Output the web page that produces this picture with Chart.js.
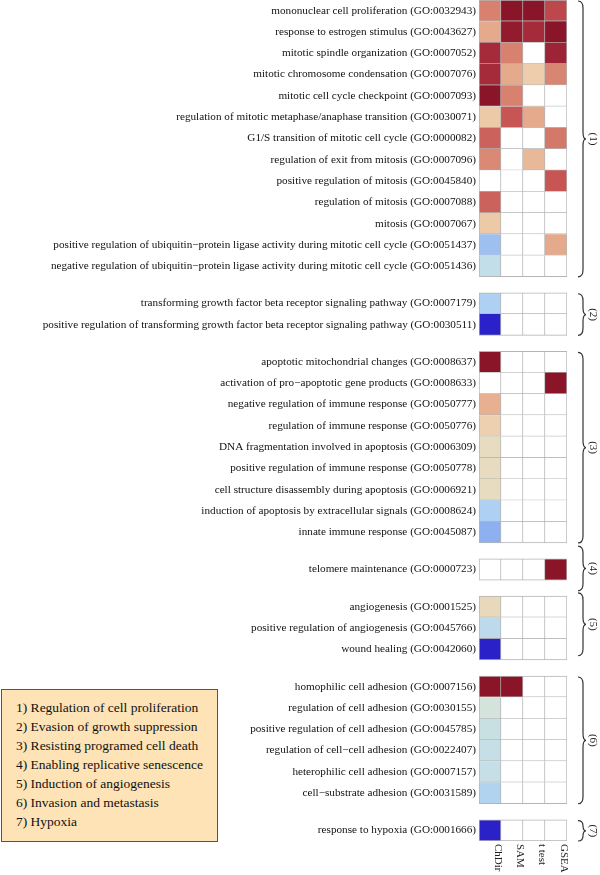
<!DOCTYPE html>
<html>
<head>
<meta charset="utf-8">
<script src="https://cdn.jsdelivr.net/npm/chart.js@4.4.0/dist/chart.umd.min.js"></script>
<style>
html, body { margin: 0; padding: 0; background: #fff; }
#wrap { position: relative; width: 600px; height: 875px; }
#key {
  position: absolute; left: 1px; top: 689px; width: 217px; height: 153px;
  box-sizing: border-box; background: #fde3b6; border: 1px solid #555;
  font-family: "Liberation Serif", "Times New Roman", serif; font-size: 13.5px;
  color: #111; padding: 8px 0 0 14px; line-height: 19px;
}
</style>
</head>
<body>
<div id="wrap">
  <canvas id="chart"></canvas>
  <div id="key">
    1) Regulation of cell proliferation<br>
    2) Evasion of growth suppression<br>
    3) Resisting programed cell death<br>
    4) Enabling replicative senescence<br>
    5) Induction of angiogenesis<br>
    6) Invasion and metastasis<br>
    7) Hypoxia
  </div>
</div>
<script>
// columns of the heatmap
var columns = ['ChDir', 'SAM', 't test', 'GSEA'];
var groupLabels = ['(1)', '(2)', '(3)', '(4)', '(5)', '(6)', '(7)'];
var groupSizes = [13, 2, 9, 1, 3, 6, 1];

var terms = [
  'mononuclear cell proliferation (GO:0032943)',
  'response to estrogen stimulus (GO:0043627)',
  'mitotic spindle organization (GO:0007052)',
  'mitotic chromosome condensation (GO:0007076)',
  'mitotic cell cycle checkpoint (GO:0007093)',
  'regulation of mitotic metaphase/anaphase transition (GO:0030071)',
  'G1/S transition of mitotic cell cycle (GO:0000082)',
  'regulation of exit from mitosis (GO:0007096)',
  'positive regulation of mitosis (GO:0045840)',
  'regulation of mitosis (GO:0007088)',
  'mitosis (GO:0007067)',
  'positive regulation of ubiquitin\u2212protein ligase activity during mitotic cell cycle (GO:0051437)',
  'negative regulation of ubiquitin\u2212protein ligase activity during mitotic cell cycle (GO:0051436)',
  'transforming growth factor beta receptor signaling pathway (GO:0007179)',
  'positive regulation of transforming growth factor beta receptor signaling pathway (GO:0030511)',
  'apoptotic mitochondrial changes (GO:0008637)',
  'activation of pro\u2212apoptotic gene products (GO:0008633)',
  'negative regulation of immune response (GO:0050777)',
  'regulation of immune response (GO:0050776)',
  'DNA fragmentation involved in apoptosis (GO:0006309)',
  'positive regulation of immune response (GO:0050778)',
  'cell structure disassembly during apoptosis (GO:0006921)',
  'induction of apoptosis by extracellular signals (GO:0008624)',
  'innate immune response (GO:0045087)',
  'telomere maintenance (GO:0000723)',
  'angiogenesis (GO:0001525)',
  'positive regulation of angiogenesis (GO:0045766)',
  'wound healing (GO:0042060)',
  'homophilic cell adhesion (GO:0007156)',
  'regulation of cell adhesion (GO:0030155)',
  'positive regulation of cell adhesion (GO:0045785)',
  'regulation of cell\u2212cell adhesion (GO:0022407)',
  'heterophilic cell adhesion (GO:0007157)',
  'cell\u2212substrate adhesion (GO:0031589)',
  'response to hypoxia (GO:0001666)'
];

// scores (-5 = deep blue ... 6 = deep red), null = empty cell
var chdir = [3, 2, 5, 5, 6, 1.1, 3.7, 2.8, null, 3.7, 1.1, -3.5, -2,
  -3, -5,
  6, null, 1.8, 0.8, 0, 0, 0, -3, -4,
  null,
  0.2, -2.3, -5,
  6, -1, -1.6, -1.8, -1.8, -2.8,
  -5];
var sam = [6, 5.7, 3, 2, 3, 4, null, null, null, null, null, null, null,
  null, null,
  null, null, null, null, null, null, null, null, null,
  null,
  null, null, null,
  6, null, null, null, null, null,
  null];
var ttest = [6, 5, null, 1, null, 2, null, 1.6, null, null, null, null, null,
  null, null,
  null, null, null, null, null, null, null, null, null,
  null,
  null, null, null,
  null, null, null, null, null, null,
  null];
var gsea = [4.3, 6, 5.3, 2.9, null, null, 3.2, null, 4, null, null, 2, null,
  null, null,
  null, 6, null, null, null, null, null, null, null,
  6,
  null, null, null,
  null, null, null, null, null, null,
  null];

var palette = ['#2a22c8', '#8cb0f0', '#aed0f2', '#c2dee8', '#d4e4dc', '#e8dcc0',
  '#edcdab', '#e5aa8b', '#d7816e', '#c65553', '#a52b3b', '#8a1529'];

function hex(c) {
  return [parseInt(c.slice(1, 3), 16), parseInt(c.slice(3, 5), 16), parseInt(c.slice(5, 7), 16)];
}
function colorFor(v) {
  if (v === null) return '#ffffff';
  var t = Math.max(0, Math.min(palette.length - 1, v + 5));
  var i = Math.min(Math.floor(t), palette.length - 2);
  var f = t - i;
  var a = hex(palette[i]), b = hex(palette[i + 1]);
  var rgb = a.map(function(x, k) { return Math.round(x + (b[k] - x) * f); });
  return 'rgb(' + rgb.join(',') + ')';
}

// row positions: one unit per row, 0.75 unit gap between groups
var rowPos = [], firstInGroup = [];
var n = 0;
groupSizes.forEach(function(size, g) {
  for (var i = 0; i < size; i++) {
    rowPos.push(n + g * 0.75);
    firstInGroup.push(i === 0);
    n++;
  }
});
var braceAdjust = [[0, 0], [0, 0], [0, 0], [-0.65, 0.5], [-0.2, -0.2], [0, 0], [0, 0]];

var series = [chdir, sam, ttest, gsea];
var datasets = series.map(function(vals, c) {
  return {
    label: columns[c],
    data: vals.map(function(v, i) { return {x: 1, y: rowPos[i]}; }),
    backgroundColor: vals.map(colorFor),
    borderColor: '#b5b5b5',
    borderSkipped: false,
    borderWidth: vals.map(function(v, i) {
      return {top: firstInGroup[i] ? 1 : 0, left: c === 0 ? 1 : 0, right: 1, bottom: 1};
    }),
    categoryPercentage: 1,
    barPercentage: 1
  };
});

var decorations = {
  id: 'decorations',
  afterDraw: function(chart) {
    var ctx = chart.ctx, x = chart.scales.x, y = chart.scales.y, area = chart.chartArea;
    ctx.save();
    ctx.fillStyle = '#222';
    ctx.font = '11px "Liberation Serif", "Times New Roman", serif';
    columns.forEach(function(c, i) {
      ctx.save();
      ctx.translate(x.getPixelForValue(i + 0.5) + 8, area.bottom + 3);
      ctx.rotate(Math.PI / 2);
      ctx.textAlign = 'left';
      ctx.textBaseline = 'middle';
      ctx.fillText(c, 0, 0);
      ctx.restore();
    });

    var start = 0;
    ctx.strokeStyle = '#333';
    ctx.lineWidth = 1.2;
    groupSizes.forEach(function(size, g) {
      var y0 = y.getPixelForValue(rowPos[start] - 0.5 + braceAdjust[g][0]) + 1;
      var y1 = y.getPixelForValue(rowPos[start + size - 1] + 0.5 + braceAdjust[g][1]);
      var x0 = area.right + 11, w = 5, r = Math.min(7, (y1 - y0) / 4);
      var mid = (y0 + y1) / 2;
      ctx.beginPath();
      ctx.moveTo(x0, y0);
      ctx.quadraticCurveTo(x0 + w, y0, x0 + w, y0 + r);
      ctx.lineTo(x0 + w, mid - r);
      ctx.quadraticCurveTo(x0 + w, mid, x0 + w + 3, mid);
      ctx.quadraticCurveTo(x0 + w, mid, x0 + w, mid + r);
      ctx.lineTo(x0 + w, y1 - r);
      ctx.quadraticCurveTo(x0 + w, y1, x0, y1);
      ctx.stroke();

      ctx.save();
      ctx.translate(x0 + 15, mid);
      ctx.rotate(Math.PI / 2);
      ctx.textAlign = 'center';
      ctx.textBaseline = 'middle';
      ctx.fillText(groupLabels[g], 0, 0);
      ctx.restore();
      start += size;
    });
    ctx.restore();
  }
};

Chart.defaults.font.family = '"Liberation Serif", "Times New Roman", serif';
var ctx = document.getElementById('chart').getContext('2d');
var heatmap = new Chart(ctx, {
  type: 'bar',
  data: { datasets: datasets },
  options: {
    indexAxis: 'y',
    responsive: true,
    maintainAspectRatio: false,
    animation: false,
    layout: { padding: { top: 0, right: 33, bottom: 34, left: 0 } },
    plugins: { legend: { display: false }, tooltip: { enabled: false } },
    scales: {
      x: { type: 'linear', stacked: true, min: 0, max: 4, display: false },
      y: {
        type: 'linear',
        stacked: true,
        reverse: true,
        offset: false,
        min: -0.5,
        max: rowPos[rowPos.length - 1] + 0.5,
        grid: { display: false, drawTicks: false, offset: false },
        border: { display: false },
        afterBuildTicks: function(scale) {
          scale.ticks = rowPos.map(function(v) { return {value: v}; });
        },
        afterFit: function(scale) {
          scale.width = 479;
          scale.paddingTop = 0;
          scale.paddingBottom = 0;
        },
        ticks: {
          autoSkip: false,
          padding: 3,
          color: '#111',
          font: { size: 11.2 },
          callback: function(value, index) { return terms[index]; }
        }
      }
    }
  },
  plugins: [decorations]
});
</script>
</body>
</html>
